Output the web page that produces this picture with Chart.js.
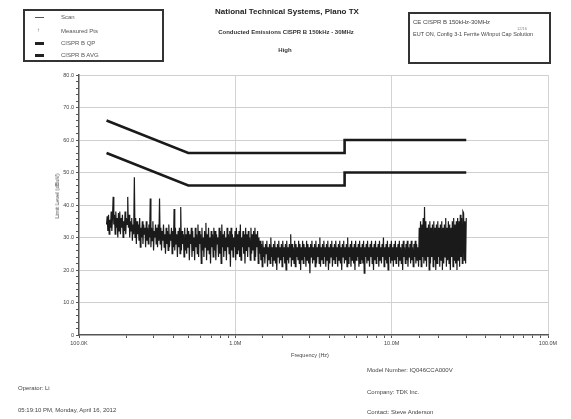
<!DOCTYPE html>
<html>
<head>
<meta charset="utf-8">
<script src="https://cdn.jsdelivr.net/npm/chart.js@4.4.1/dist/chart.umd.min.js"></script>
<style>
  html, body { margin: 0; padding: 0; background: #fff; }
  body { width: 571px; height: 419px; position: relative; overflow: hidden;
         font-family: "Liberation Sans", Arial, sans-serif; color: #333; }
  #wrap { position: absolute; left: 0; top: 0; width: 571px; height: 419px; }
  .t { position: absolute; white-space: nowrap; font-size: 6px; color: #444; }
  .box { position: absolute; border: 2px solid #333; box-sizing: border-box; }
  .lg { position: absolute; left: 12px; font-size: 6px; color: #555; }
  .sw { position: absolute; left: -1px; width: 9px; }
</style>
</head>
<body>
<div id="wrap"><canvas id="emiChart" width="571" height="419"></canvas></div>

<!-- legend box -->
<div class="box" style="left:23px; top:9px; width:141px; height:53px;">
  <div class="sw" style="left:10px; top:6px; height:1px; background:#555;"></div>
  <div class="lg" style="left:36px; top:3px;">Scan</div>
  <div class="lg" style="left:12px; top:16px; color:#666;">↑</div>
  <div class="lg" style="left:36px; top:17px;">Measured Pts</div>
  <div class="sw" style="left:10px; top:31px; height:3px; background:#222;"></div>
  <div class="lg" style="left:36px; top:29px;">CISPR B QP</div>
  <div class="sw" style="left:10px; top:43px; height:3px; background:#222;"></div>
  <div class="lg" style="left:36px; top:41px;">CISPR B AVG</div>
</div>

<!-- info box -->
<div class="box" style="left:408px; top:12px; width:143px; height:52px;">
  <div class="t" style="left:3px; top:5px;">CE CISPR B 150kHz-30MHz</div>
  <div class="t" style="left:3px; top:17px; font-size:5.5px;">EUT ON, Config 3-1 Ferrite W/Input Cap Solution</div>
  <div class="t" style="left:107px; top:12px; font-size:4px; color:#888;">12/16</div>
</div>

<div class="t" style="left:287px; top:7px; transform:translateX(-50%); font-size:8px; font-weight:bold; color:#222;">National Technical Systems, Plano TX</div>
<div class="t" style="left:286px; top:29px; transform:translateX(-50%); font-size:6px; font-weight:bold; color:#333;">Conducted Emissions CISPR B 150kHz - 30MHz</div>
<div class="t" style="left:285px; top:47px; transform:translateX(-50%); font-size:6px; font-weight:bold; color:#333;">High</div>

<div class="t" style="left:57px; top:196px; transform:translate(-50%,-50%) rotate(-90deg); font-size:5.5px;">Limit Level (dBuV)</div>
<div class="t" style="left:310px; top:352px; transform:translateX(-50%); font-size:5.5px;">Frequency (Hz)</div>

<div class="t" style="left:367px; top:367px;">Model Number: IQ046CCA000V</div>
<div class="t" style="left:18px; top:385px;">Operator: Li</div>
<div class="t" style="left:367px; top:389px;">Company: TDK Inc.</div>
<div class="t" style="left:18px; top:407px;">05:19:10 PM, Monday, April 16, 2012</div>
<div class="t" style="left:367px; top:409px;">Contact: Steve Anderson</div>

<script>
// --- DONNÉES ---
const scanStartHz = 150e3;
const scanStopHz = 30e6;
const scanDb = [
  // 150k - 500k
  34, 36.5, 32, 37, 31, 35.5, 33, 38, 32, 36, 42.5, 34, 37, 31, 38, 33, 36, 30, 37.5, 32,
  38, 31, 36, 33, 37, 30, 35, 32, 38, 31, 36, 34, 42.5, 33, 37, 30, 35, 32, 36, 29,
  34, 31, 48.5, 30, 36, 28, 35, 31, 34, 29, 36, 27, 33, 30, 35, 28, 34, 31, 33, 27,
  35, 29, 33, 28, 34, 30, 42, 27, 33, 29, 35, 26, 32, 30, 34, 28, 33, 27, 34, 29,
  42, 28, 33, 26, 32, 29, 34, 27, 31, 25, 33, 28, 32, 26, 34, 27, 31, 29, 33, 25,
  32, 27, 38.8, 26, 33, 28, 31, 24, 32, 27, 33, 25, 39.4, 26, 32, 28, 31, 24, 33, 26,
  // 500k - 1.5M
  31, 25, 33, 27, 32, 23, 31, 28, 33, 24, 32, 26, 30, 23, 33, 27, 31, 25, 34, 24,
  32, 28, 31, 22, 33, 26, 30, 24, 32, 27, 34.5, 23, 31, 26, 33, 25, 30, 22, 32, 27,
  31, 24, 33, 26, 32, 23, 31, 28, 30, 24, 33, 25, 32, 22, 34, 27, 31, 24, 32, 26,
  30, 23, 33, 27, 31, 25, 32, 21, 33, 26, 31, 24, 30, 27, 32, 23, 33, 25, 31, 26,
  32, 24, 34, 23, 30, 27, 32, 25, 31, 22, 33, 26, 31, 24, 32, 27, 30, 23, 33, 25,
  31, 26, 32, 23, 33, 24, 31, 27, 32, 22, 30, 25,
  // 1.5M - 15M
  29, 23, 28, 21, 29, 24, 27, 22, 28, 25, 29, 21, 27, 23, 28, 22, 30, 24, 27, 21,
  28, 23, 29, 22, 27, 20, 28, 24, 29, 22, 27, 23, 28, 21, 29, 24, 27, 22, 28, 20,
  29, 23, 27, 22, 28, 24, 31, 21, 28, 23, 27, 22, 29, 21, 28, 24, 27, 23, 29, 22,
  28, 20, 27, 23, 29, 22, 28, 24, 27, 21, 29, 23, 28, 22, 27, 19, 28, 24, 29, 22,
  27, 23, 28, 21, 29, 22, 27, 24, 28, 22, 30, 21, 27, 23, 28, 22, 29, 24, 27, 21,
  28, 23, 29, 20, 27, 22, 28, 24, 29, 21, 27, 23, 28, 22, 29, 24, 27, 21, 28, 23,
  29, 22, 27, 20, 28, 24, 29, 22, 27, 23, 28, 21, 30, 22, 27, 24, 28, 21, 29, 23,
  27, 22, 28, 20, 29, 23, 27, 24, 28, 21, 29, 22, 27, 23, 28, 22, 29, 19, 27, 24,
  28, 22, 29, 23, 27, 21, 28, 24, 29, 22, 27, 20, 28, 23, 29, 22, 27, 24, 28, 21,
  29, 23, 27, 22, 28, 24, 30, 21, 27, 23, 28, 22, 29, 20, 27, 24, 28, 22, 29, 23,
  27, 21, 28, 23, 29, 22, 27, 24, 28, 21, 29, 23, 27, 22, 28, 20, 29, 24, 27, 22,
  28, 23, 29, 21, 27, 24, 28, 22, 29, 23, 27, 21, 28, 24, 29, 22, 28, 23, 27, 21,
  // 15M - 30M
  33, 23, 35, 21, 34, 24, 36, 22, 39.4, 23, 35, 21, 33, 24, 34, 20, 35, 22, 33, 24,
  34, 21, 35, 23, 33, 20, 34, 22, 35, 24, 33, 21, 34, 23, 35, 20, 33, 22, 34, 24,
  36, 21, 33, 23, 35, 22, 34, 20, 33, 24, 35, 21, 36, 23, 34, 22, 35, 20, 36, 23,
  35, 21, 37, 24, 36, 22, 38, 37.5, 23, 35, 22, 36
];

// limites CISPR B (frequence Hz, dBuV)
const limitFreqs = [150e3, 500e3, 5e6, 5e6, 30e6];
const qpLimit    = [66, 56, 56, 60, 60];
const avgLimit   = [56, 46, 46, 50, 50];

const xTickLabels = { 5: '100.0K', 6: '1.0M', 7: '10.0M', 8: '100.0M' };

// --- CHART ---
const n = scanDb.length;
const scanPts = scanDb.map((v, k) => ({
  x: scanStartHz * Math.pow(scanStopHz / scanStartHz, k / (n - 1)),
  y: v
}));
const qpPts  = limitFreqs.map((f, k) => ({ x: f, y: qpLimit[k] }));
const avgPts = limitFreqs.map((f, k) => ({ x: f, y: avgLimit[k] }));

const isDecade = v => Math.abs(Math.log10(v) - Math.round(Math.log10(v))) < 1e-6;

new Chart(document.getElementById('emiChart'), {
  type: 'scatter',
  data: {
    datasets: [
      { label: 'Scan', data: scanPts, showLine: true, borderColor: '#1a1a1a',
        borderWidth: 1.2, pointRadius: 0, order: 3 },
      { label: 'CISPR B QP', data: qpPts, showLine: true, borderColor: '#1a1a1a',
        borderWidth: 2.6, pointRadius: 0, order: 1 },
      { label: 'CISPR B AVG', data: avgPts, showLine: true, borderColor: '#1a1a1a',
        borderWidth: 2.6, pointRadius: 0, order: 2 }
    ]
  },
  options: {
    responsive: false,
    animation: false,
    layout: { padding: { left: 0, top: 75, right: 23, bottom: 54 } },
    plugins: { legend: { display: false }, tooltip: { enabled: false } },
    scales: {
      x: {
        type: 'logarithmic', min: 1e5, max: 1e8,
        afterFit: s => { s.height = 30; },
        border: { color: '#555', width: 1.5 },
        grid: {
          color: c => (c.tick && isDecade(c.tick.value) && c.tick.value > 1e5) ? '#d4d4d4' : 'transparent',
          tickColor: '#555', tickLength: 3, drawOnChartArea: true
        },
        ticks: {
          autoSkip: false, maxRotation: 0, padding: 2,
          font: { size: 5.5, family: 'Liberation Sans' }, color: '#444',
          callback: v => isDecade(v) ? (xTickLabels[Math.round(Math.log10(v))] || '') : ''
        }
      },
      y: {
        min: 0, max: 80,
        afterFit: s => { s.width = 79; },
        border: { color: '#555', width: 1.5 },
        grid: {
          color: c => (c.tick && c.tick.value % 10 === 0 && c.tick.value > 0) ? '#cfcfcf' : 'transparent',
          tickColor: '#555', tickLength: 3
        },
        ticks: {
          stepSize: 2, autoSkip: false, padding: 2,
          font: { size: 5.5, family: 'Liberation Sans' }, color: '#444',
          callback: v => v % 10 === 0 ? (v === 0 ? '0' : v.toFixed(1)) : ''
        }
      }
    }
  }
});
</script>
</body>
</html>
